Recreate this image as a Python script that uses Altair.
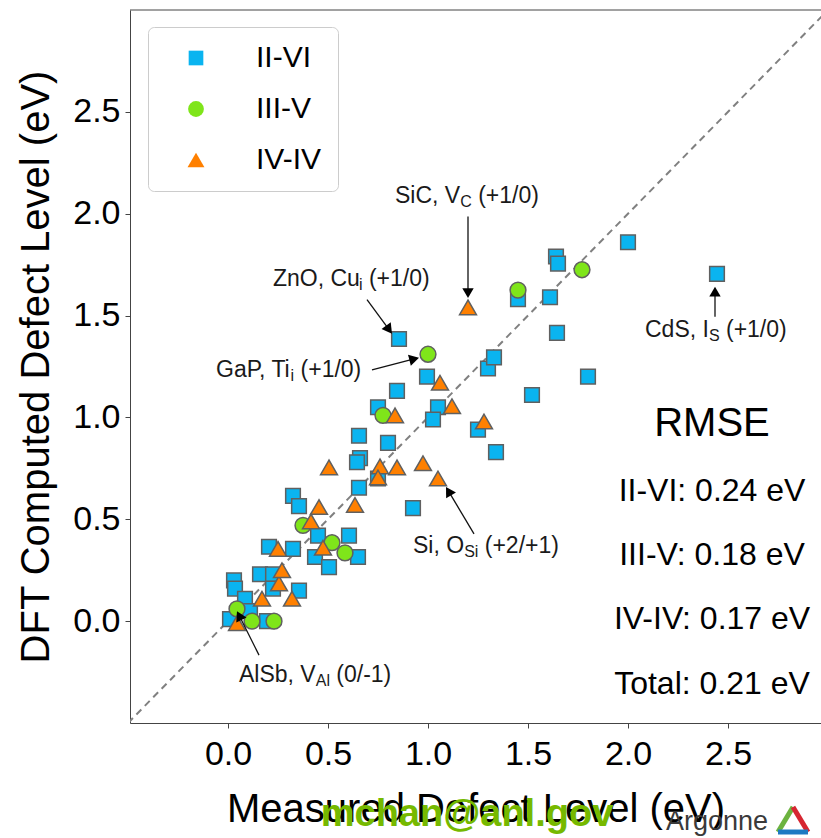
import math
import altair as alt
import pandas as pd

# ---------------- data ----------------
GROUPS = ["II-VI", "III-V", "IV-IV"]
FILLS = ["#0ab4f0", "#7fe51a", "#ff8000"]
SHAPES = ["square", "circle", "triangle-up"]
SIZES = [215, 285, 340]

ii_vi_measured = [0.03, 0.035, 0.085, 0.01, 0.11, 0.195, 0.16, 0.225, 0.225, 0.355,
                  0.205, 0.325, 0.325, 0.355, 0.45, 0.435, 0.505, 0.605, 0.65, 0.655,
                  0.655, 0.66, 0.645, 0.75, 0.75, 0.80, 0.845, 0.855, 0.925, 0.995,
                  1.05, 1.025, 1.25, 1.30, 1.33, 1.34, 1.45, 1.52, 1.61, 1.64,
                  1.65, 1.645, 1.80, 2.0, 2.445]
ii_vi_dft = [0.20, 0.16, 0.11, 0.01, 0.05, 0.0, 0.23, 0.23, 0.16, 0.15,
             0.365, 0.355, 0.615, 0.565, 0.42, 0.315, 0.265, 0.42, 0.315, 0.655,
             0.91, 0.80, 0.78, 1.05, 0.70, 0.875, 1.13, 1.385, 0.555, 1.20,
             1.05, 0.99, 0.94, 1.24, 1.295, 0.83, 1.58, 1.11, 1.59, 1.79,
             1.755, 1.415, 1.20, 1.86, 1.705]

iii_v_measured = [0.045, 0.12, 0.23, 0.375, 0.52, 0.585, 0.775, 1.0, 1.45, 1.77]
iii_v_dft = [0.06, 0.0, 0.0, 0.47, 0.385, 0.335, 1.01, 1.31, 1.625, 1.725]

iv_iv_measured = [0.045, 0.17, 0.255, 0.27, 0.32, 0.25, 0.415, 0.455, 0.475, 0.505,
                  0.635, 0.76, 0.75, 0.845, 0.835, 0.975, 1.05, 1.06, 1.12, 1.28, 1.20]
iv_iv_dft = [-0.01, 0.11, 0.185, 0.25, 0.11, 0.355, 0.49, 0.56, 0.36, 0.755,
             0.57, 0.76, 0.705, 0.755, 1.01, 0.775, 0.70, 1.17, 1.055, 0.98, 1.54]

diag = [-0.5, 3.0]

ann_x = [0.835, 0.225, -0.06, 2.085, 0.925, 0.055]
ann_y = [2.052, 1.645, 1.198, 1.394, 0.334, -0.30]
ann_main = ["SiC, V", "ZnO, Cu", "GaP, Ti", "CdS, I", "Si, O", "AlSb, V"]
ann_sub = ["C", "i", "i", "S", "Si", "Al"]
ann_tail = ["(+1/0)", "(+1/0)", "(+1/0)", "(+1/0)", "(+2/+1)", "(0/-1)"]

arrow_tail_x = [1.20, 0.695, 0.72, 2.435, 1.23, 0.155]
arrow_tail_y = [1.986, 1.578, 1.234, 1.494, 0.428, -0.167]
arrow_tip_x = [1.20, 0.82, 0.955, 2.435, 1.09, 0.045]
arrow_tip_y = [1.586, 1.411, 1.293, 1.642, 0.659, 0.049]

rmse_text = ["RMSE", "II-VI: 0.24 eV", "III-V: 0.18 eV", "IV-IV: 0.17 eV", "Total: 0.21 eV"]
rmse_y = [0.908, 0.589, 0.275, -0.04, -0.358]
rmse_x = 2.42

x_ticks = [0.0, 0.5, 1.0, 1.5, 2.0, 2.5]
y_ticks = [0.0, 0.5, 1.0, 1.5, 2.0, 2.5]

# ---------------- layout constants ----------------
W, H = 691, 713
XDOM = [-0.49, 2.965]
YDOM = [-0.5, 3.0]
PXX = W / (XDOM[1] - XDOM[0])
PXY = H / (YDOM[1] - YDOM[0])
FONT = "'Liberation Sans', Arial, sans-serif"
ANN_SIZE = 23
SUB_SIZE = 16

CW = {' ': 278, ',': 278, '(': 333, ')': 333, '+': 584, '/': 278, '-': 333,
      'A': 667, 'C': 722, 'G': 778, 'I': 278, 'O': 778, 'P': 667, 'S': 667,
      'T': 611, 'V': 667, 'Z': 611, 'a': 556, 'b': 556, 'd': 556, 'i': 222,
      'l': 222, 'n': 556, 'u': 556}
for d in "0123456789":
    CW[d] = 556
KERN = {"P,": -110, "Ti": -37, "O,": -40}


def tw(s, size):
    w = sum(CW.get(c, 556) for c in s)
    w += sum(KERN.get(s[i:i + 2], 0) for i in range(len(s) - 1))
    return w * size / 1000.0


# ---------------- tables ----------------
rows = []
for g, xs, ys in [(0, ii_vi_measured, ii_vi_dft), (1, iii_v_measured, iii_v_dft),
                  (2, iv_iv_measured, iv_iv_dft)]:
    for a, b in zip(xs, ys):
        rows.append({"x": a, "y": b, "group": GROUPS[g]})
pts_df = pd.DataFrame(rows)

diag_df = pd.DataFrame({"x": diag, "y": diag})

main_df = pd.DataFrame({"x": ann_x, "y": ann_y, "t": ann_main})
sub_df = pd.DataFrame({"x": [x0 + tw(m, ANN_SIZE) / PXX for x0, m in zip(ann_x, ann_main)],
                       "y": ann_y, "t": ann_sub})
tail_df = pd.DataFrame({"x": [x0 + (tw(m, ANN_SIZE) + tw(s, SUB_SIZE) + tw(" ", ANN_SIZE)) / PXX
                              for x0, m, s in zip(ann_x, ann_main, ann_sub)],
                        "y": ann_y, "t": ann_tail})

HEAD = 130
head_half = 0.866 * math.sqrt(HEAD) / 2
arr_rows = []
for tx, ty, hx, hy in zip(arrow_tail_x, arrow_tail_y, arrow_tip_x, arrow_tip_y):
    sx = (hx - tx) * PXX
    sy = -(hy - ty) * PXY
    L = math.hypot(sx, sy)
    ux, uy = sx / L, sy / L
    cx = hx - ux * head_half / PXX
    cy = hy + uy * head_half / PXY
    ang = math.degrees(math.atan2(sx, -sy)) % 360
    arr_rows.append({"x": tx, "y": ty, "x2": cx, "y2": cy, "hx": cx, "hy": cy, "ang": ang})
arr_df = pd.DataFrame(arr_rows)

rmse_df = pd.DataFrame({"x": [rmse_x] * len(rmse_text), "y": rmse_y, "t": rmse_text})

# ---------------- encodings ----------------
xscale = alt.Scale(domain=XDOM, nice=False, zero=False)
yscale = alt.Scale(domain=YDOM, nice=False, zero=False)
xaxis = alt.Axis(values=x_ticks, format=".1f", title="Measured Defect Level (eV)",
                 grid=False, zindex=0)
yaxis = alt.Axis(values=y_ticks, format=".1f", title="DFT Computed Defect Level (eV)",
                 grid=False, zindex=0)


def X(f):
    return alt.X(f, type="quantitative", scale=xscale, axis=xaxis)


def Y(f):
    return alt.Y(f, type="quantitative", scale=yscale, axis=yaxis)


diag_line = alt.Chart(diag_df).mark_line(
    color="#808080", strokeWidth=2, strokeDash=[7, 5], clip=True
).encode(x=X("x"), y=Y("y"))

top_line = alt.Chart(pd.DataFrame({"v": [YDOM[1]]})).mark_rule(
    color="#444444", strokeWidth=1
).encode(y=Y("v"))

legend = alt.Legend(
    title=None, orient="none", legendX=18, legendY=17, direction="vertical",
    labelFont=FONT, labelFontSize=30, labelColor="black",
    symbolSize=290, symbolStrokeColor="#606060", symbolStrokeWidth=1.5,
    symbolOpacity=1, padding=16, rowPadding=21, symbolOffset=17, labelOffset=45,
    strokeColor="#cccccc", fillColor="white", cornerRadius=6,
)

points = alt.Chart(pts_df).mark_point(
    filled=True, opacity=1, stroke="#606060", strokeWidth=1.5
).encode(
    x=X("x"), y=Y("y"),
    color=alt.Color("group:N", scale=alt.Scale(domain=GROUPS, range=FILLS), legend=legend),
    shape=alt.Shape("group:N", scale=alt.Scale(domain=GROUPS, range=SHAPES), legend=legend),
    size=alt.Size("group:N", scale=alt.Scale(domain=GROUPS, range=SIZES), legend=None),
)

arrows = alt.Chart(arr_df).mark_rule(color="#111111", strokeWidth=1.3).encode(
    x=X("x"), y=Y("y"), x2="x2", y2="y2"
)
heads = alt.Chart(arr_df).mark_point(
    shape="triangle-up", filled=True, color="#000000", opacity=1, size=HEAD
).encode(x=X("hx"), y=Y("hy"), angle=alt.Angle("ang:Q", scale=None))

ann_main_l = alt.Chart(main_df).mark_text(
    align="left", baseline="alphabetic", font=FONT, fontSize=ANN_SIZE, color="#1a1a1a"
).encode(x=X("x"), y=Y("y"), text="t:N")
ann_sub_l = alt.Chart(sub_df).mark_text(
    align="left", baseline="alphabetic", font=FONT, fontSize=SUB_SIZE, color="#1a1a1a", dy=4
).encode(x=X("x"), y=Y("y"), text="t:N")
ann_tail_l = alt.Chart(tail_df).mark_text(
    align="left", baseline="alphabetic", font=FONT, fontSize=ANN_SIZE, color="#1a1a1a"
).encode(x=X("x"), y=Y("y"), text="t:N")

rmse_head = alt.Chart(rmse_df.iloc[:1]).mark_text(
    align="center", baseline="alphabetic", font=FONT, fontSize=40, color="black"
).encode(x=X("x"), y=Y("y"), text="t:N")
rmse_lines = alt.Chart(rmse_df.iloc[1:]).mark_text(
    align="center", baseline="alphabetic", font=FONT, fontSize=32, color="black"
).encode(x=X("x"), y=Y("y"), text="t:N")

water = alt.Chart(pd.DataFrame({"t": ["mchan@anl.gov"]})).mark_text(
    align="center", baseline="alphabetic", font=FONT, fontSize=38, fontWeight="bold",
    color="#76b900"
).encode(x=alt.value(337), y=alt.value(816), text="t:N")

argonne = alt.Chart(pd.DataFrame({"t": ["Argonne"]})).mark_text(
    align="left", baseline="alphabetic", font=FONT, fontSize=27, color="#3a3a3a"
).encode(x=alt.value(536), y=alt.value(820), text="t:N")

logo_df = pd.DataFrame({"c": ["#6cb33f", "#d62631", "#1f7ac2"]})
logo_g = alt.Chart(logo_df.iloc[:1]).mark_rule(color="#6cb33f", strokeWidth=5).encode(
    x=alt.value(663), y=alt.value(797), x2=alt.value(648), y2=alt.value(822))
logo_r = alt.Chart(logo_df.iloc[1:2]).mark_rule(color="#d62631", strokeWidth=5).encode(
    x=alt.value(663), y=alt.value(797), x2=alt.value(678), y2=alt.value(822))
logo_b = alt.Chart(logo_df.iloc[2:]).mark_rule(color="#1f7ac2", strokeWidth=5).encode(
    x=alt.value(648), y=alt.value(822), x2=alt.value(678), y2=alt.value(822))

chart = alt.layer(
    diag_line, top_line, points, arrows, heads, ann_main_l, ann_sub_l, ann_tail_l,
    rmse_head, rmse_lines, water, argonne, logo_g, logo_r, logo_b
).properties(
    width=W, height=H,
    autosize=alt.AutoSizeParams(type="none"),
    padding={"left": 130, "top": 10, "right": 0, "bottom": 115},
    background="white",
).configure_view(stroke=None).configure_axis(
    labelFont=FONT, labelFontSize=34, labelColor="black",
    titleFont=FONT, titleFontSize=40, titleFontWeight="normal", titleColor="black",
    tickColor="#444444", tickSize=5, domainColor="#444444", domainWidth=1,
    labelPadding=5,
).configure_axisX(labelPadding=9, titlePadding=18).configure_axisY(titlePadding=16)

chart.save("out.html", embed_options={"renderer": "svg", "actions": False})
